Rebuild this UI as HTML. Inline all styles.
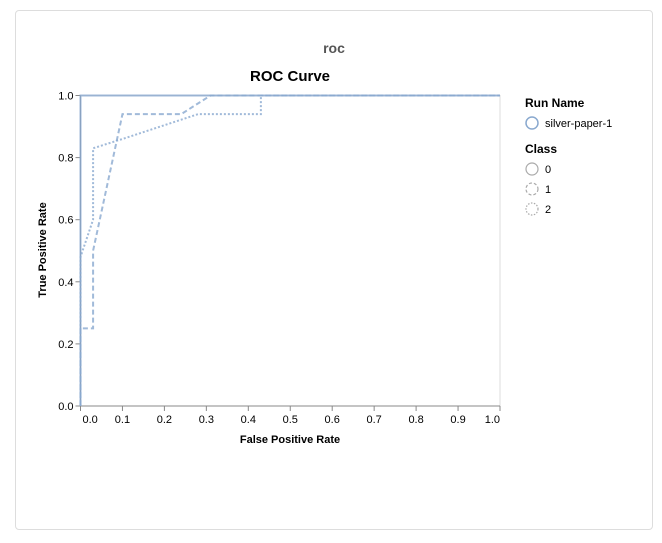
<!DOCTYPE html>
<html><head><meta charset="utf-8"><style>
body{margin:0;background:#fff;font-family:"Liberation Sans",sans-serif}
#card{position:absolute;left:15px;top:10px;width:636px;height:518px;border:1px solid #ddd;border-radius:4px;background:#fff}
#t{position:absolute;left:0;top:40px;width:668px;text-align:center;font-weight:bold;font-size:14px;color:#555}
</style></head><body>
<div id="card"></div>
<div id="t">roc</div>
<svg id="c" width="662" height="543" style="position:absolute;left:0;top:0"></svg>
<script>
const xTicks=[0,0.1,0.2,0.3,0.4,0.5,0.6,0.7,0.8,0.9,1.0];
const yTicks=[0,0.2,0.4,0.6,0.8,1.0];
const class0X=[0,0,1];
const class0Y=[0,1,1];
const class1X=[0,0,0.03,0.03,0.1,0.24,0.31,1];
const class1Y=[0,0.25,0.25,0.5,0.94,0.94,1,1];
const class2X=[0,0,0.03,0.03,0.1,0.28,0.43,0.43,1];
const class2Y=[0,0.48,0.6,0.83,0.86,0.94,0.94,1,1];
const X0=80.5,X1=500,Y0=406,Y1=95.5;
const sx=v=>X0+v*(X1-X0), sy=v=>Y0-v*(Y0-Y1);
const svg=document.getElementById('c');const NS='http://www.w3.org/2000/svg';
function mk(t,a,txt){const e=document.createElementNS(NS,t);for(const k in a)e.setAttribute(k,a[k]);if(txt!==undefined)e.textContent=txt;svg.appendChild(e);return e;}
let e;
e=mk('text',{x:290,y:81,'text-anchor':'middle','font-size':15,'font-weight':'bold',fill:'#000'},'ROC Curve');


e=mk('rect',{x:X0,y:Y1,width:X1-X0,height:Y0-Y1,fill:'none',stroke:'#ddd'});


xTicks.forEach((v,i)=>{
 mk('line',{x1:sx(v),x2:sx(v),y1:Y0,y2:Y0+5,stroke:'#888'});
 const anchor=i==0?'start':(i==xTicks.length-1?'end':'middle');
 e=mk('text',{x:sx(v)+(i==0?2:0),y:Y0+17,'text-anchor':anchor,'font-size':11,fill:'#000'},v.toFixed(1));
 
 
});
yTicks.forEach(v=>{
 mk('line',{x1:X0-5,x2:X0,y1:sy(v),y2:sy(v),stroke:'#888'});
 e=mk('text',{x:X0-7,y:sy(v)+4,'text-anchor':'end','font-size':11,fill:'#000'},v.toFixed(1));
 
 
});
mk('line',{x1:X0,x2:X1,y1:Y0,y2:Y0,stroke:'#888'});
mk('line',{x1:X0,x2:X0,y1:Y1,y2:Y0,stroke:'#888'});
e=mk('text',{x:290,y:443,'text-anchor':'middle','font-size':11,'font-weight':'bold'},'False Positive Rate');


e=mk('text',{x:0,y:0,transform:'translate(46,250) rotate(-90)','text-anchor':'middle','font-size':11,'font-weight':'bold'},'True Positive Rate');


function line(xs,ys,dash,name){const p=xs.map((x,i)=>(i?'L':'M')+sx(x)+','+sy(ys[i])).join('');
 e=mk('path',{d:p,fill:'none',stroke:'#8aa9cf','stroke-width':2,'stroke-opacity':0.8,'stroke-dasharray':dash});
 
 }
line(class0X,class0Y,'none','class-0-line');
line(class1X,class1Y,'5,3','class-1-line');
line(class2X,class2Y,'2,2','class-2-line');
const L=525;
e=mk('text',{x:L,y:107,'font-size':12,'font-weight':'bold'},'Run Name');


mk('circle',{cx:L+7,cy:123,r:6,fill:'none',stroke:'#8aa9cf','stroke-width':1.5});
e=mk('text',{x:L+20,y:127,'font-size':11},'silver-paper-1');


e=mk('text',{x:L,y:153,'font-size':12,'font-weight':'bold'},'Class');


['none','3,2','1.5,1.5'].forEach((d,i)=>{
 mk('circle',{cx:L+7,cy:169+i*20,r:6,fill:'none',stroke:'#aaa','stroke-width':1.2,'stroke-dasharray':d});
 e=mk('text',{x:L+20,y:173+i*20,'font-size':11},String(i));
 
 
});
</script>
</body></html>
